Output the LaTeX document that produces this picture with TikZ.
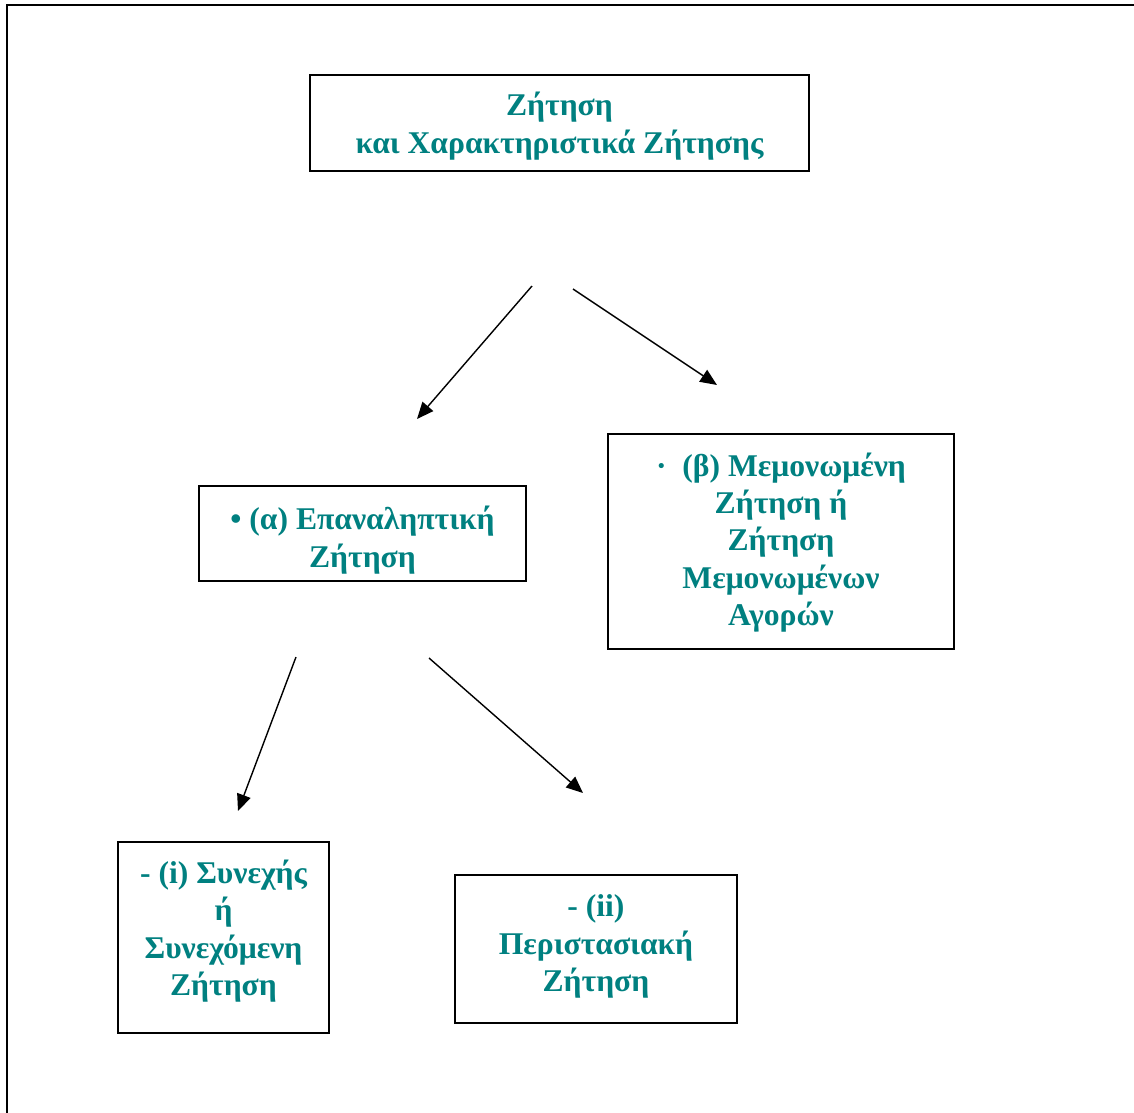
\documentclass[tikz,border=0pt]{standalone}
\usepackage{fontspec}
\setmainfont{Liberation Serif}
\usetikzlibrary{arrows.meta}
\definecolor{tealtext}{RGB}{0,128,128}
\tikzset{
  box/.style={draw, line width=1.1pt, inner sep=0pt, outer sep=0pt},
  txt/.style={align=center, inner sep=0pt, text=tealtext,
    font=\fontsize{18pt}{21.3pt}\selectfont\bfseries},
  arr/.style={line width=0.8pt, -{Triangle[length=9.5pt,width=8pt]}}
}
\begin{document}
\begin{tikzpicture}[x=0.02cm, y=-0.02cm]
  \useasboundingbox (0,0) rectangle (1134,1113);
  % πλαίσιο
  \draw[line width=1.2pt] (7,1113) -- (7,5) -- (1134,5);
  % κουτιά
  \node[box, minimum width=9.98cm, minimum height=1.92cm] (top) at (559.5,123) {};
  \node[box, minimum width=6.54cm, minimum height=1.90cm] (alpha) at (362.5,533.5) {};
  \node[box, minimum width=6.92cm, minimum height=4.30cm] (beta) at (781,541.5) {};
  \node[box, minimum width=4.22cm, minimum height=3.82cm] (cont) at (223.5,937.5) {};
  \node[box, minimum width=5.64cm, minimum height=2.96cm] (occ) at (596,949) {};
  % κείμενα
  \node[txt, yshift=-0.06cm] (toptxt) at (top) {Ζήτηση\\και Χαρακτηριστικά Ζήτησης};
  \node[txt, yshift=-0.13cm] (alphatxt) at (alpha) {• (α) Επαναληπτική\\Ζήτηση};
  \node[txt, yshift=-0.02cm] (betatxt) at (beta)
    {·\ \ (β) Μεμονωμένη\\Ζήτηση ή\\Ζήτηση\\Μεμονωμένων\\Αγορών};
  \node[txt, yshift=0.13cm] (conttxt) at (cont) {- (i) Συνεχής\\ή\\Συνεχόμενη\\Ζήτηση};
  \node[txt, yshift=0.05cm] (occtxt) at (occ) {- (ii)\\Περιστασιακή\\Ζήτηση};
  % άκρα βελών
  \coordinate (a1s) at (532,286);
  \coordinate (a1e) at (417,419);
  \coordinate (a2s) at (573,289);
  \coordinate (a2e) at (717,385);
  \coordinate (a3s) at (296,657);
  \coordinate (a3e) at (238,811);
  \coordinate (a4s) at (429,658);
  \coordinate (a4e) at (583,793);
  % βέλη
  \draw[arr] (a1s) -- (a1e);
  \draw[arr] (a2s) -- (a2e);
  \draw[arr] (a3s) -- (a3e);
  \draw[arr] (a4s) -- (a4e);
\end{tikzpicture}
\end{document}
